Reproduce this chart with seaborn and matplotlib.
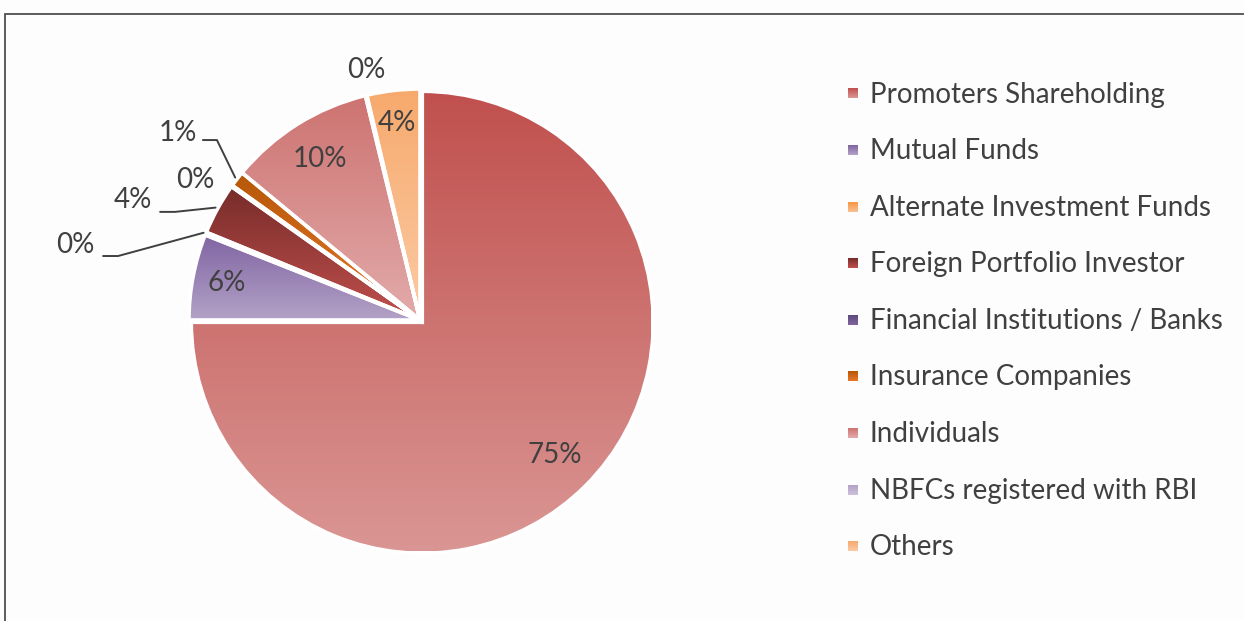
import numpy as np
import matplotlib
matplotlib.use("Agg")
import matplotlib.pyplot as plt
import seaborn as sns
from matplotlib.colors import to_rgb

sns.set_theme(style="white")
plt.rcParams["font.family"] = ["Lato", "DejaVu Sans"]

# ---------------- data ----------------
categories = [
    "Promoters Shareholding",
    "Mutual Funds",
    "Alternate Investment Funds",
    "Foreign Portfolio Investor",
    "Financial Institutions / Banks",
    "Insurance Companies",
    "Individuals",
    "NBFCs registered with RBI",
    "Others",
]
values = [75.0, 6.0, 0.2, 3.6, 0.1, 1.1, 10.2, 0.1, 3.7]

# gradient colours (top -> bottom) per category
top_colors = ["#C0504D", "#8064A2", "#F79646", "#772C2A", "#604A7B",
              "#B65708", "#CD7371", "#B3A2C7", "#F7A96C"]
bottom_colors = ["#DA9694", "#B3A2C7", "#FAC090", "#C0504D", "#8064A2",
                 "#E8782A", "#E2ABAA", "#CCC1DA", "#FBCBA5"]

TEXT = "#404040"
W, H = 1244, 621
R = 231
CX, CY = 420, 320

fig = plt.figure(figsize=(W / 100, H / 100), dpi=100, facecolor="#fdfdfd")
ax = fig.add_axes([(CX - R) / W, (H - CY - R) / H, 2 * R / W, 2 * R / H])
ax.set_facecolor("none")

explode = [0.014] + [0.0] * (len(values) - 1)
wedges, _ = ax.pie(values, startangle=90, counterclock=False, radius=1,
                   explode=explode,
                   wedgeprops=dict(linewidth=2.6, edgecolor="white"))


def grad_img(c_top, c_bot, n=256):
    t = np.linspace(0, 1, n)[:, None, None]
    a = np.array(to_rgb(c_top))[None, None, :]
    b = np.array(to_rgb(c_bot))[None, None, :]
    return a * (1 - t) + b * t


for w, ct, cb in zip(wedges, top_colors, bottom_colors):
    ext = w.get_path().get_extents()
    img = grad_img(ct, cb)
    im = ax.imshow(img, extent=[ext.x0, ext.x1, ext.y0, ext.y1],
                   origin="upper", aspect="auto", interpolation="bilinear",
                   zorder=0.5)
    im.set_clip_path(w)
    w.set_facecolor("none")
    w.set_zorder(1)

ax.set_xlim(-1, 1)
ax.set_ylim(-1, 1)
ax.set_aspect("equal")
ax.axis("off")

FS = 20
pct_text = [f"{round(v):.0f}%" for v in values]

# inside labels for big slices
inside = {0: 0.81, 1: 0.85, 6: 0.82, 8: 0.86}
for i, rr in inside.items():
    w = wedges[i]
    mid = np.deg2rad((w.theta1 + w.theta2) / 2)
    ax.text(w.center[0] + rr * np.cos(mid), w.center[1] + rr * np.sin(mid),
            pct_text[i], ha="center", va="center", fontsize=FS, color=TEXT)

# outside labels (layout positions, in pie radii) with optional leader lines
outside = {
    2: ((-1.494, 0.325), [(-1.372, 0.277), (-1.307, 0.277)]),
    3: ((-1.242, 0.519), [(-1.125, 0.468), (-1.061, 0.468)]),
    4: ((-0.974, 0.606), None),
    5: ((-1.048, 0.810), [(-0.940, 0.779), (-0.879, 0.779)]),
    7: ((-0.234, 1.082), None),
}
for i, (pos, lead) in outside.items():
    ax.text(pos[0], pos[1], pct_text[i], ha="center", va="center",
            fontsize=FS, color=TEXT, clip_on=False)
    if lead is not None:
        w = wedges[i]
        mid = np.deg2rad((w.theta1 + w.theta2) / 2)
        ex, ey = 1.01 * np.cos(mid), 1.01 * np.sin(mid)
        xs = [p[0] for p in lead] + [ex]
        ys = [p[1] for p in lead] + [ey]
        ax.plot(xs, ys, color=TEXT, lw=1.4, clip_on=False, zorder=3)

# overlay axes in pixel coordinates for legend and frame
ov = fig.add_axes([0, 0, 1, 1])
ov.set_xlim(0, W)
ov.set_ylim(H, 0)
ov.axis("off")
ov.patch.set_alpha(0)

row0, drow = 94.5, 56.6
for k, (cat, ct, cb) in enumerate(zip(categories, top_colors, bottom_colors)):
    y = row0 + k * drow
    ov.imshow(grad_img(ct, cb, 32), extent=[848, 858, y + 4, y - 6],
              origin="upper", aspect="auto", interpolation="bilinear")
    ov.text(870, y, cat, ha="left", va="center", fontsize=FS, color=TEXT)

ov.set_xlim(0, W)
ov.set_ylim(H, 0)
ov.plot([4.5, 4.5, W], [H, 13.5, 13.5], color="#505050", lw=1.3,
        solid_joinstyle="miter")

fig.savefig("out.png", dpi=100, facecolor=fig.get_facecolor())
